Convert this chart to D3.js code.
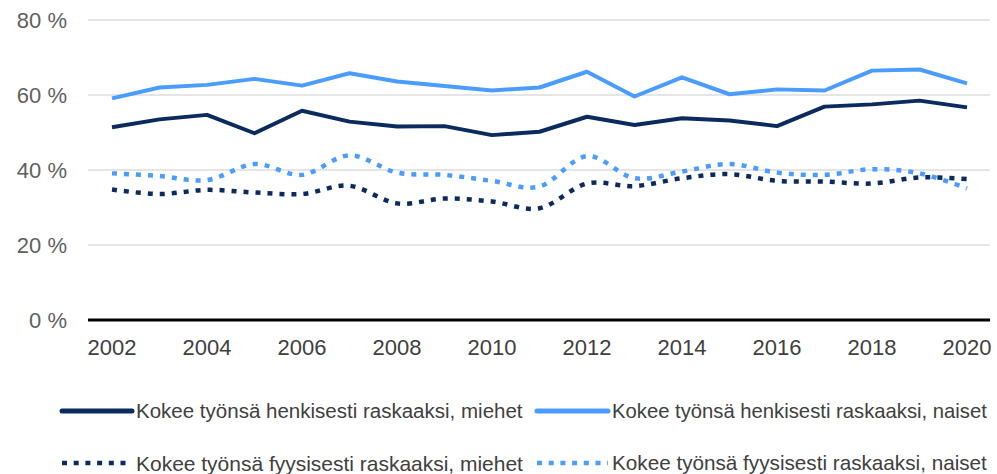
<!DOCTYPE html>
<html>
<head>
<meta charset="utf-8">
<script src="https://cdn.jsdelivr.net/npm/d3@7"></script>
<style>
  body { margin: 0; background: #fff; }
  text { font-family: "Liberation Sans", Arial, sans-serif; }
</style>
</head>
<body>
<svg id="chart"></svg>
<script>
// data
var years = [2002, 2003, 2004, 2005, 2006, 2007, 2008, 2009, 2010, 2011,
             2012, 2013, 2014, 2015, 2016, 2017, 2018, 2019, 2020];
var henkMiehet = [51.4, 53.5, 54.7, 49.8, 55.8, 52.9, 51.6, 51.7, 49.3, 50.2,
                  54.2, 52.0, 53.8, 53.2, 51.7, 56.9, 57.5, 58.5, 56.7];
var henkNaiset = [59.1, 62.0, 62.7, 64.3, 62.5, 65.8, 63.6, 62.4, 61.2, 62.0,
                  66.2, 59.6, 64.7, 60.2, 61.5, 61.2, 66.5, 66.8, 63.1];
var fyysMiehet = [34.8, 33.6, 34.7, 34.0, 33.6, 35.8, 31.1, 32.4, 31.6, 29.8,
                  36.4, 35.7, 37.8, 38.9, 37.1, 36.9, 36.4, 38.0, 37.6];
var fyysNaiset = [39.1, 38.4, 37.3, 41.6, 38.7, 43.9, 39.3, 38.7, 37.1, 35.6,
                  43.7, 37.8, 39.6, 41.6, 39.3, 38.7, 40.2, 39.1, 35.1];
var yTicks = [0, 20, 40, 60, 80];
var xTicks = [2002, 2004, 2006, 2008, 2010, 2012, 2014, 2016, 2018, 2020];
var seriesNames = [
  "Kokee työnsä henkisesti raskaaksi, miehet",
  "Kokee työnsä henkisesti raskaaksi, naiset",
  "Kokee työnsä fyysisesti raskaaksi, miehet",
  "Kokee työnsä fyysisesti raskaaksi, naiset"
];

var darkBlue = "#0b2b5f";
var lightBlue = "#4a9cff";

var series = [
  { name: seriesNames[0], values: henkMiehet, color: darkBlue, dotted: false },
  { name: seriesNames[1], values: henkNaiset, color: lightBlue, dotted: false },
  { name: seriesNames[2], values: fyysMiehet, color: darkBlue, dotted: true },
  { name: seriesNames[3], values: fyysNaiset, color: lightBlue, dotted: true }
];

var width = 997, height = 474;
var svg = d3.select("#chart").attr("width", width).attr("height", height);

// plot area
var plotLeft = 88, plotRight = 990;
var xScale = d3.scaleLinear().domain([2002, 2020]).range([112, 967]);
var yScale = d3.scaleLinear().domain([0, 80]).range([320, 20]);

// gridlines
svg.append("g")
  .selectAll("line")
  .data(yTicks.filter(function (d) { return d > 0; }))
  .enter()
  .append("line")
  .attr("x1", plotLeft)
  .attr("x2", plotRight)
  .attr("y1", function (d) { return yScale(d); })
  .attr("y2", function (d) { return yScale(d); })
  .attr("stroke", "#dcdcdc")
  .attr("stroke-width", 1.5);

// y labels
svg.append("g")
  .selectAll("text")
  .data(yTicks)
  .enter()
  .append("text")
  .attr("x", 67)
  .attr("y", function (d) { return yScale(d); })
  .attr("dy", "0.36em")
  .attr("text-anchor", "end")
  .attr("font-size", 22)
  .attr("fill", "#5f5f5f")
  .text(function (d) { return d + " %"; });

// x labels
svg.append("g")
  .selectAll("text")
  .data(xTicks)
  .enter()
  .append("text")
  .attr("x", function (d) { return xScale(d); })
  .attr("y", 355)
  .attr("text-anchor", "middle")
  .attr("font-size", 22)
  .attr("fill", "#404040")
  .text(function (d) { return d; });

// zero line
svg.append("line")
  .attr("x1", plotLeft)
  .attr("x2", plotRight)
  .attr("y1", yScale(0))
  .attr("y2", yScale(0))
  .attr("stroke", "#000")
  .attr("stroke-width", 3);

// lines
var solidLine = d3.line()
  .x(function (d, i) { return xScale(years[i]); })
  .y(function (d) { return yScale(d); });
var smoothLine = d3.line()
  .x(function (d, i) { return xScale(years[i]); })
  .y(function (d) { return yScale(d); })
  .curve(d3.curveCardinal.tension(0));

// draw dotted first, solid on top
var order = [2, 3, 0, 1];
order.forEach(function (k) {
  var s = series[k];
  svg.append("path")
    .attr("d", s.dotted ? smoothLine(s.values) : solidLine(s.values))
    .attr("fill", "none")
    .attr("stroke", s.color)
    .attr("stroke-width", s.dotted ? 4.5 : 4)
    .attr("stroke-dasharray", s.dotted ? "5,7" : null)
    .attr("stroke-linejoin", "round");
});

// legend
var legendPos = [
  { x: 62, y: 411, len: 70, textEnd: 523 },
  { x: 537, y: 411, len: 71, textEnd: 987 },
  { x: 62, y: 463, len: 70, textEnd: 523 },
  { x: 537, y: 463, len: 71, textEnd: 987 }
];
series.forEach(function (s, i) {
  var p = legendPos[i];
  var g = svg.append("g");
  g.append("line")
    .attr("x1", p.x)
    .attr("x2", p.x + p.len)
    .attr("y1", p.y)
    .attr("y2", p.y)
    .attr("stroke", s.color)
    .attr("stroke-width", s.dotted ? 4.5 : 5)
    .attr("stroke-linecap", s.dotted ? "butt" : "round")
    .attr("stroke-dasharray", s.dotted ? "5,6.7" : null);
  var tx = p.x + p.len + 4;
  var t = g.append("text")
    .attr("x", tx)
    .attr("y", p.y)
    .attr("dy", "0.36em")
    .attr("font-size", 21)
    .attr("fill", "#404040")
    .text(s.name);
  // shrink font so the text fits the width seen in the picture
  var natural = t.node().getComputedTextLength();
  var target = p.textEnd - tx;
  if (natural > target) t.attr("font-size", 21 * target / natural);
});
</script>
</body>
</html>
